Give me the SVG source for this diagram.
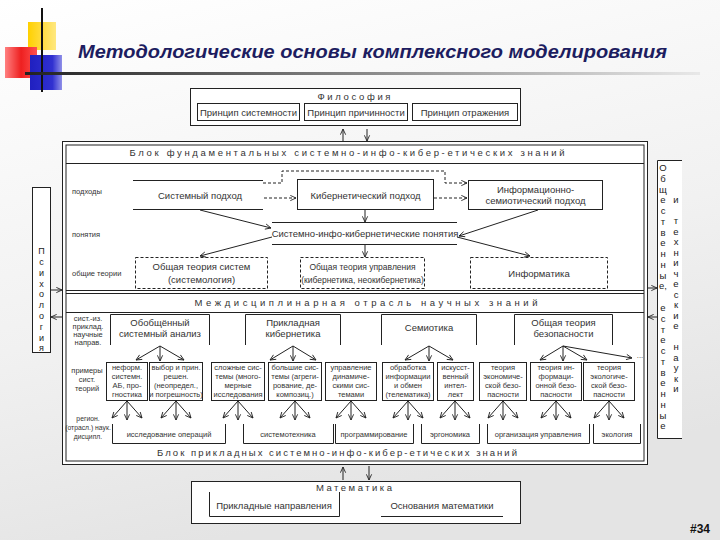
<svg xmlns="http://www.w3.org/2000/svg" width="720" height="540" viewBox="0 0 720 540">
<defs>
<linearGradient id="bg" x1="0" y1="0" x2="0.3" y2="1">
<stop offset="0" stop-color="#ffffff"/><stop offset="0.6" stop-color="#f1f1f1"/><stop offset="1" stop-color="#e4e4e4"/>
</linearGradient>
<linearGradient id="bar" x1="0" y1="0" x2="1" y2="0">
<stop offset="0" stop-color="#222"/><stop offset="0.5" stop-color="#888"/><stop offset="1" stop-color="#e8e8e8"/>
</linearGradient>
<linearGradient id="red" x1="0" y1="0" x2="1" y2="0">
<stop offset="0" stop-color="#ff8080"/><stop offset="0.5" stop-color="#ee2020"/><stop offset="1" stop-color="#ff5050"/>
</linearGradient>
<linearGradient id="blue" x1="0" y1="0" x2="1" y2="0">
<stop offset="0" stop-color="#2020c0"/><stop offset="0.7" stop-color="#3030d0"/><stop offset="1" stop-color="#9090e8"/>
</linearGradient>
<linearGradient id="yel" x1="0" y1="0" x2="1" y2="0">
<stop offset="0" stop-color="#ffd000"/><stop offset="1" stop-color="#ffe880"/>
</linearGradient>
<marker id="a" viewBox="0 0 8 8" refX="7.5" refY="4" markerWidth="7" markerHeight="7" orient="auto" markerUnits="userSpaceOnUse">
<path d="M1,1 L7.5,4 L1,7" fill="none" stroke="#222" stroke-width="1"/>
</marker>
<style>
.t{font-family:"Liberation Sans",Arial,sans-serif;font-size:9.5px;fill:#333;text-anchor:middle}
.s{font-family:"Liberation Sans",Arial,sans-serif;font-size:7.5px;fill:#333;text-anchor:middle}
.l{font-family:"Liberation Sans",Arial,sans-serif;font-size:7.5px;fill:#333}
.h{font-family:"Liberation Sans",Arial,sans-serif;font-size:9.5px;fill:#333;text-anchor:middle}
.v{font-family:"Liberation Sans",Arial,sans-serif;font-size:9px;fill:#222;text-anchor:middle}
.box{fill:#fff;stroke:#222;stroke-width:1}
.ln{fill:none;stroke:#222;stroke-width:1}
.dash{fill:#fff;stroke:#222;stroke-width:1;stroke-dasharray:3,2}
.c{fill:none;stroke:#222;stroke-width:1;marker-end:url(#a)}
.cd{fill:none;stroke:#222;stroke-width:1;stroke-dasharray:3,2;marker-end:url(#a)}
</style>
</defs>
<rect x="0" y="0" width="720" height="540" fill="url(#bg)"/>
<g id="decor">
<rect x="28" y="22" width="28" height="28" fill="url(#yel)"/>
<rect x="5" y="47" width="32" height="31" fill="url(#red)"/>
<rect x="30" y="55" width="32" height="35" fill="url(#blue)"/>
<line x1="42" y1="8" x2="42" y2="92" stroke="#111" stroke-width="2"/>
<rect x="25" y="72" width="675" height="3" fill="url(#bar)"/>
</g>
<text x="78" y="58" textLength="589" lengthAdjust="spacingAndGlyphs" style="font-family:'Liberation Sans',Arial,sans-serif;font-size:19px;font-weight:bold;font-style:italic;fill:#1d1d60">Методологические основы комплексного моделирования</text>

<g id="philosophy">
<rect class="box" x="190.5" y="88.5" width="330" height="37"/>
<text class="h" x="354" y="100" textLength="73" lengthAdjust="spacing">Философия</text>
<rect class="box" x="197.5" y="103.5" width="102" height="17"/>
<text class="t" x="248.5" y="115.5">Принцип системности</text>
<rect class="box" x="304.5" y="103.5" width="103" height="17"/>
<text class="t" x="356" y="115.5">Принцип причинности</text>
<rect class="box" x="412.5" y="103.5" width="105" height="17"/>
<text class="t" x="465" y="115.5">Принцип отражения</text>
</g>

<g id="psychology">
<rect class="box" x="32.5" y="187.5" width="18" height="165"/>
<g class="v">
<text x="41.5" y="254">П</text><text x="41.5" y="265">с</text><text x="41.5" y="276">и</text><text x="41.5" y="287">х</text><text x="41.5" y="297">о</text><text x="41.5" y="308">л</text><text x="41.5" y="319">о</text><text x="41.5" y="330">г</text><text x="41.5" y="341">и</text><text x="41.5" y="351">я</text>
</g>
</g>

<g id="sciences">
<rect x="657" y="160" width="25" height="278" fill="#fff"/>
<path class="ln" d="M682,160.5 H657.5 V438.5 H682"/>
<g class="v" style="font-size:9.5px">
<text x="663" y="171">О</text><text x="663" y="182">б</text><text x="663" y="193">щ</text><text x="663" y="203">е</text><text x="663" y="214">с</text><text x="663" y="225">т</text><text x="663" y="236">в</text><text x="663" y="246">е</text><text x="663" y="257">н</text><text x="663" y="268">н</text><text x="663" y="279">ы</text><text x="663" y="289">е,</text>
<text x="663" y="311">е</text><text x="663" y="322">с</text><text x="663" y="333">т</text><text x="663" y="343">е</text><text x="663" y="354">с</text><text x="663" y="365">т</text><text x="663" y="376">в</text><text x="663" y="386">е</text><text x="663" y="397">н</text><text x="663" y="408">н</text><text x="663" y="419">ы</text><text x="663" y="429">е</text>
<text x="676" y="203">и</text>
<text x="676" y="224">т</text><text x="676" y="235">е</text><text x="676" y="245">х</text><text x="676" y="256">н</text><text x="676" y="266">и</text><text x="676" y="277">ч</text><text x="676" y="287">е</text><text x="676" y="298">с</text><text x="676" y="308">к</text><text x="676" y="319">и</text><text x="676" y="329">е</text>
<text x="676" y="350">н</text><text x="676" y="361">а</text><text x="676" y="371">у</text><text x="676" y="382">к</text><text x="676" y="392">и</text>
</g>
</g>

<g id="main-block">
<rect class="box" x="62.5" y="141.5" width="585" height="323"/>
<rect class="ln" x="66" y="145" width="578" height="316"/>
<line class="ln" x1="66" y1="163.5" x2="644" y2="163.5"/>
<line class="ln" x1="66" y1="290.5" x2="644" y2="290.5"/>
<line class="ln" x1="66" y1="293.5" x2="644" y2="293.5"/>
<line class="ln" x1="66" y1="312.5" x2="644" y2="312.5"/>
<text class="h" x="347" y="156" textLength="435" lengthAdjust="spacing">Блок фундаментальных системно-инфо-кибер-етических знаний</text>
<text class="h" x="366" y="306" textLength="343" lengthAdjust="spacing">Междисциплинарная отрасль научных знаний</text>
<text class="h" x="337" y="456" textLength="360" lengthAdjust="spacing">Блок прикладных системно-инфо-кибер-етических знаний</text>
</g>

<g id="row-labels">
<text class="l" x="72" y="194">подходы</text>
<text class="l" x="72" y="237">понятия</text>
<text class="l" x="72" y="276">общие теории</text>
<text class="s" x="88" y="321">сист.-из.</text>
<text class="s" x="88" y="329">приклад.</text>
<text class="s" x="88" y="337">научные</text>
<text class="s" x="88" y="345">направ.</text>
<text class="s" x="87" y="373">примеры</text>
<text class="s" x="87" y="382">сист.</text>
<text class="s" x="87" y="391">теорий</text>
<text class="s" x="88" y="421" style="font-size:6.8px">регион.</text>
<text class="s" x="88" y="430" style="font-size:6.8px">(отрасл.) наук.</text>
<text class="s" x="88" y="439" style="font-size:6.8px">дисципл.</text>
</g>

<g id="system-approach">
<path class="ln" d="M133,180.5 H263 M133,209.5 H263"/>
<text class="t" x="200" y="198.5">Системный подход</text>
</g>
<g id="cyber-approach">
<rect class="box" x="297.5" y="179.5" width="136" height="30"/>
<text class="t" x="365.5" y="198.5">Кибернетический подход</text>
</g>
<g id="info-approach">
<rect class="box" x="468.5" y="180.5" width="134" height="29"/>
<text class="t" x="535.5" y="192.5">Информационно-</text>
<text class="t" x="535.5" y="204">семиотический подход</text>
</g>
<g id="concepts">
<path class="ln" d="M272,222.5 H457 M272,244.5 H457"/>
<text class="t" x="365" y="237">Системно-инфо-кибернетические понятия</text>
</g>
<g id="gts">
<rect class="dash" x="135.5" y="257.5" width="132" height="31"/>
<text class="t" x="201.5" y="270">Общая теория систем</text>
<text class="t" x="201.5" y="283">(системология)</text>
</g>
<g id="gtc">
<rect class="dash" x="300.5" y="257.5" width="124" height="31"/>
<text class="t" x="362.5" y="270" style="font-size:8.5px">Общая теория управления</text>
<text class="t" x="362.5" y="283" style="font-size:8.5px">(кибернетика, неокибернетика)</text>
</g>
<g id="informatics">
<rect class="dash" x="470.5" y="257.5" width="137" height="31"/>
<text class="t" x="539" y="276.5">Информатика</text>
</g>

<g id="branch-heads">
<path class="ln" d="M110.5,345 V314.5 H209.5 V345"/>
<text class="t" x="160" y="326">Обобщённый</text><text class="t" x="160" y="337">системный анализ</text>
<path class="ln" d="M245.5,345 V314.5 H340.5 V345"/>
<text class="t" x="293" y="326">Прикладная</text><text class="t" x="293" y="337">кибернетика</text>
<path class="ln" d="M381.5,345 V314.5 H476.5 V345"/>
<text class="t" x="429" y="331">Семиотика</text>
<path class="ln" d="M514.5,345 V314.5 H612.5 V345"/>
<text class="t" x="563.5" y="326">Общая теория</text><text class="t" x="563.5" y="337">безопасности</text>
<text class="s" x="640" y="358">...</text>
</g>

<g id="theories">
<rect class="box" x="106.5" y="362.5" width="41" height="38"/>
<text class="s" x="127" y="370">неформ.</text><text class="s" x="127" y="379">системн.</text><text class="s" x="127" y="388">АБ, про-</text><text class="s" x="127" y="397">гностика</text>
<rect class="box" x="149.5" y="362.5" width="53" height="38"/>
<text class="s" x="176" y="370">выбор и прин.</text><text class="s" x="176" y="379">решен.</text><text class="s" x="176" y="388">(неопредел.,</text><text class="s" x="176" y="397">и погрешность)</text>
<rect class="box" x="211.5" y="362.5" width="53" height="38"/>
<text class="s" x="238" y="370">сложные сис-</text><text class="s" x="238" y="379">темы (много-</text><text class="s" x="238" y="388">мерные</text><text class="s" x="238" y="397">исследования</text>
<rect class="box" x="268.5" y="362.5" width="53" height="38"/>
<text class="s" x="295" y="370">большие сис-</text><text class="s" x="295" y="379">темы (агреги-</text><text class="s" x="295" y="388">рование, де-</text><text class="s" x="295" y="397">композиц.)</text>
<rect class="box" x="325.5" y="362.5" width="51" height="38"/>
<text class="s" x="351" y="370">управление</text><text class="s" x="351" y="379">динамиче-</text><text class="s" x="351" y="388">скими сис-</text><text class="s" x="351" y="397">темами</text>
<rect class="box" x="382.5" y="362.5" width="51" height="38"/>
<text class="s" x="408" y="370">обработка</text><text class="s" x="408" y="379">информации</text><text class="s" x="408" y="388">и обмен</text><text class="s" x="408" y="397">(телематика)</text>
<rect class="box" x="437.5" y="362.5" width="36" height="38"/>
<text class="s" x="455.5" y="370">искусст-</text><text class="s" x="455.5" y="379">венный</text><text class="s" x="455.5" y="388">интел-</text><text class="s" x="455.5" y="397">лект</text>
<rect class="box" x="479.5" y="362.5" width="47" height="38"/>
<text class="s" x="503" y="370">теория</text><text class="s" x="503" y="379">экономиче-</text><text class="s" x="503" y="388">ской безо-</text><text class="s" x="503" y="397">пасности</text>
<rect class="box" x="530.5" y="362.5" width="51" height="38"/>
<text class="s" x="556" y="370">теория ин-</text><text class="s" x="556" y="379">формаци-</text><text class="s" x="556" y="388">онной безо-</text><text class="s" x="556" y="397">пасности</text>
<rect class="box" x="583.5" y="362.5" width="51" height="38"/>
<text class="s" x="609" y="370">теория</text><text class="s" x="609" y="379">экологиче-</text><text class="s" x="609" y="388">ской безо-</text><text class="s" x="609" y="397">пасности</text>
</g>

<g id="disciplines">
<path class="ln" d="M112.5,424 V443.5 H225.5 V424"/><text class="s" x="169" y="437">исследование операций</text>
<path class="ln" d="M243.5,424 V443.5 H333.5 V424"/><text class="s" x="288" y="437">системотехника</text>
<path class="ln" d="M335.5,424 V443.5 H413.5 V424"/><text class="s" x="374" y="437">программирование</text>
<path class="ln" d="M421.5,424 V443.5 H479.5 V424"/><text class="s" x="450" y="437">эргономика</text>
<path class="ln" d="M487.5,424 V443.5 H589.5 V424"/><text class="s" x="538" y="437">организация управления</text>
<path class="ln" d="M593.5,424 V443.5 H640.5 V424"/><text class="s" x="617" y="437">экология</text>
</g>

<g id="mathematics">
<rect class="box" x="191.5" y="481.5" width="329" height="42"/>
<text class="h" x="354" y="491" textLength="76" lengthAdjust="spacing">Математика</text>
<path class="ln" d="M209.5,492 V516.5 H339.5 V492"/>
<text class="t" x="274" y="509">Прикладные направления</text>
<path class="ln" d="M381,516.5 H503"/>
<text class="t" x="442" y="509">Основания математики</text>
</g>

<text x="710" y="533" style="font-family:'Liberation Sans',Arial,sans-serif;font-size:12px;font-weight:bold;fill:#111;text-anchor:end">#34</text>

<g id="connectors">
<path class="c" d="M343,141 V129"/>
<path class="c" d="M367,129 V141"/>
<path class="c" d="M343,480 V467"/>
<path class="c" d="M369,466 V480"/>
<path class="c" d="M51,290 H62"/>
<path class="c" d="M62,317 H51"/>
<path class="c" d="M648,288 H657"/>
<path class="c" d="M657,317 H648"/>
<path class="cd" d="M263,183 H282 V171 H445 V183 H467"/>
<path class="cd" d="M264,198 H296"/>
<path class="cd" d="M434,198 H467"/>
<path class="c" d="M200,210 L271,228"/>
<path class="c" d="M365,210 V222"/>
<path class="c" d="M538,210 L459,236"/>
<path class="c" d="M272,237 L200,256"/>
<path class="c" d="M365,245 V257"/>
<path class="c" d="M457,237 L530,256"/>
<path class="c" d="M160,346 L136,360"/><path class="c" d="M160,346 V361"/><path class="c" d="M160,346 L184,360"/>
<path class="c" d="M293,346 L270,360"/><path class="c" d="M293,346 V361"/><path class="c" d="M293,346 L316,360"/>
<path class="c" d="M429,346 L405,360"/><path class="c" d="M429,346 V361"/><path class="c" d="M429,346 L453,360"/>
<path class="c" d="M563,346 L540,360"/><path class="c" d="M563,346 V361"/><path class="c" d="M563,346 L587,360"/><path class="c" d="M563,346 L632,358"/>
<path class="c" d="M127,401 L112,418"/><path class="c" d="M127,401 V420"/><path class="c" d="M127,401 L142,418"/>
<path class="c" d="M176,401 L161,418"/><path class="c" d="M176,401 V420"/><path class="c" d="M176,401 L191,418"/>
<path class="c" d="M238,401 L223,418"/><path class="c" d="M238,401 V420"/><path class="c" d="M238,401 L253,418"/>
<path class="c" d="M295,401 L280,418"/><path class="c" d="M295,401 V420"/><path class="c" d="M295,401 L310,418"/>
<path class="c" d="M351,401 L336,418"/><path class="c" d="M351,401 V420"/><path class="c" d="M351,401 L366,418"/>
<path class="c" d="M408,401 L393,418"/><path class="c" d="M408,401 V420"/><path class="c" d="M408,401 L423,418"/>
<path class="c" d="M455,401 L440,418"/><path class="c" d="M455,401 V420"/><path class="c" d="M455,401 L470,418"/>
<path class="c" d="M503,401 L488,418"/><path class="c" d="M503,401 V420"/><path class="c" d="M503,401 L518,418"/>
<path class="c" d="M556,401 L541,418"/><path class="c" d="M556,401 V420"/><path class="c" d="M556,401 L571,418"/>
<path class="c" d="M609,401 L594,418"/><path class="c" d="M609,401 V420"/><path class="c" d="M609,401 L624,418"/>
</g>
</svg>
